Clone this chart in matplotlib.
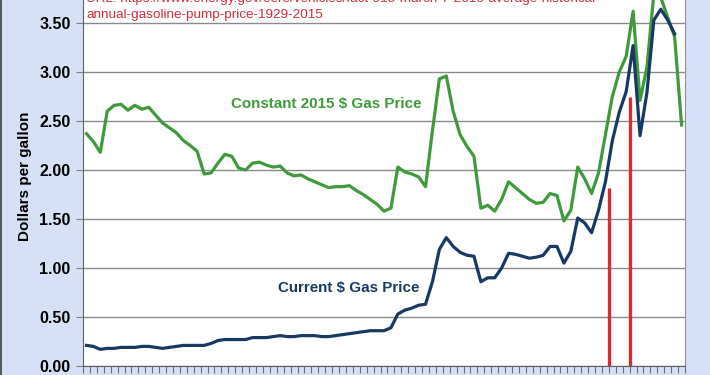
import matplotlib.pyplot as plt
import numpy as np

years = np.arange(1929, 2016)

# constant 2015 dollars, 1929-2015
constant_price = [2.37, 2.29, 2.18, 2.60, 2.66, 2.67, 2.61, 2.66, 2.62, 2.64,
                  2.56, 2.48, 2.43, 2.38, 2.30, 2.25, 2.19, 1.96, 1.97, 2.07,
                  2.16, 2.14, 2.02, 2.00, 2.07, 2.08, 2.05, 2.03, 2.04, 1.97,
                  1.94, 1.95, 1.91, 1.88, 1.85, 1.82, 1.83, 1.83, 1.84, 1.79,
                  1.75, 1.70, 1.65, 1.58, 1.61, 2.03, 1.98, 1.96, 1.93, 1.83,
                  2.40, 2.93, 2.96, 2.60, 2.36, 2.24, 2.14, 1.61, 1.64, 1.58,
                  1.70, 1.88, 1.82, 1.76, 1.70, 1.66, 1.67, 1.76, 1.74, 1.48,
                  1.59, 2.03, 1.91, 1.76, 1.97, 2.36, 2.75, 3.00, 3.16, 3.62,
                  2.71, 3.05, 3.80, 3.76, 3.56, 3.36, 2.46]

# current dollars, 1929-2014
current_price = [0.21, 0.20, 0.17, 0.18, 0.18, 0.19, 0.19, 0.19, 0.20, 0.20,
                 0.19, 0.18, 0.19, 0.20, 0.21, 0.21, 0.21, 0.21, 0.23, 0.26,
                 0.27, 0.27, 0.27, 0.27, 0.29, 0.29, 0.29, 0.30, 0.31, 0.30,
                 0.30, 0.31, 0.31, 0.31, 0.30, 0.30, 0.31, 0.32, 0.33, 0.34,
                 0.35, 0.36, 0.36, 0.36, 0.39, 0.53, 0.57, 0.59, 0.62, 0.63,
                 0.86, 1.19, 1.31, 1.22, 1.16, 1.13, 1.12, 0.86, 0.90, 0.90,
                 1.00, 1.15, 1.14, 1.12, 1.10, 1.11, 1.13, 1.22, 1.22, 1.05,
                 1.17, 1.51, 1.46, 1.36, 1.59, 1.88, 2.30, 2.59, 2.80, 3.27,
                 2.35, 2.79, 3.53, 3.64, 3.53, 3.39]

marker_years = [2004.45, 2007.55]
marker_heights = [1.82, 2.74]

url_line1 = 'URL: https://www.energy.gov/eere/vehicles/fact-915-march-7-2016-average-historical-'
url_line2 = 'annual-gasoline-pump-price-1929-2015'

green = '#3e9b3a'
navy = '#163a64'
red = '#d62d38'
font = 'Liberation Sans'

fig = plt.figure(figsize=(7.1, 3.75), dpi=100, facecolor='#d6e0f7')
# plot area runs off the top of the picture, as in the cropped original
ax = fig.add_axes([83 / 710, 9 / 375, 602 / 710, 392 / 375])
ax.set_facecolor('white')

ax.plot(years, constant_price, color=green, lw=2.3, solid_joinstyle='round')
ax.plot(years[:len(current_price)], current_price, color=navy, lw=2.3, solid_joinstyle='round')
ax.vlines(marker_years, 0, marker_heights, color=red, lw=2.4)

ax.set_xlim(1928.5, 2015.5)
ax.set_ylim(0, 4.0)
ax.set_yticks(np.arange(0, 4.01, 0.5))
ax.set_yticklabels(['%.2f' % v for v in np.arange(0, 4.01, 0.5)],
                   fontsize=11.5, fontweight='bold', family=font)
ax.set_xticks(np.arange(1928.5, 2016, 1))
ax.set_xticklabels([])
ax.tick_params(axis='x', direction='out', length=5, width=0.8, color='#707070')
ax.tick_params(axis='y', direction='out', length=5, width=0.8, color='#808080', pad=4)
ax.yaxis.grid(True, color='#8a8a8a', lw=1.0)
ax.set_axisbelow(True)
for side in ['left', 'bottom']:
    ax.spines[side].set_color('#606060')
ax.spines['right'].set_color('#909090')
ax.spines['top'].set_visible(False)

ax.set_ylabel('Dollars per gallon', fontsize=11, fontweight='bold', family=font)
ax.yaxis.set_label_coords(-0.085, 0.485)

ax.text(1949.9, 2.67, 'Constant 2015 $ Gas Price', color=green, fontsize=10.9,
        fontweight='bold', family=font, va='center')
ax.text(1956.7, 0.80, 'Current $ Gas Price', color=navy, fontsize=10.9,
        fontweight='bold', family=font, va='center')
ax.text(1929.0, 3.71, url_line1, color=red, fontsize=9.7, family=font, va='baseline')
ax.text(1929.0, 3.548, url_line2, color=red, fontsize=9.7, family=font, va='baseline')

fig.add_artist(plt.Line2D([0.001, 0.001], [0, 1], color='#404040', lw=1.2))

fig.savefig('out.png', dpi=100, facecolor=fig.get_facecolor())
